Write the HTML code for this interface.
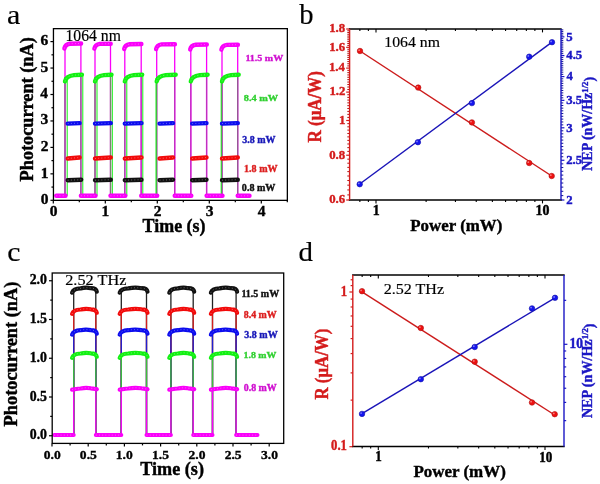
<!DOCTYPE html>
<html><head><meta charset="utf-8"><style>
html,body{margin:0;padding:0;background:#fff;}
svg{display:block;}
text{font-family:"Liberation Serif","Times New Roman",serif;}
</style></head><body>
<svg width="600" height="484" viewBox="0 0 600 484">
<rect width="600" height="484" fill="#fff"/>
<line x1="65.00" y1="195.80" x2="65.00" y2="46.45" stroke="#fa00fa" stroke-width="1.3"/>
<line x1="80.90" y1="195.80" x2="80.90" y2="43.45" stroke="#fa00fa" stroke-width="1.3"/>
<line x1="65.00" y1="195.80" x2="65.00" y2="76.93" stroke="#8c5a8c" stroke-width="1.3"/>
<line x1="80.90" y1="195.80" x2="80.90" y2="74.93" stroke="#8a6a8a" stroke-width="1.3"/>
<line x1="95.00" y1="195.80" x2="95.00" y2="46.70" stroke="#fa00fa" stroke-width="1.3"/>
<line x1="110.50" y1="195.80" x2="110.50" y2="43.70" stroke="#fa00fa" stroke-width="1.3"/>
<line x1="95.00" y1="195.80" x2="95.00" y2="76.93" stroke="#7a7a72" stroke-width="1.3"/>
<line x1="110.50" y1="195.80" x2="110.50" y2="74.93" stroke="#7a8470" stroke-width="1.3"/>
<line x1="124.80" y1="195.80" x2="124.80" y2="46.95" stroke="#fa00fa" stroke-width="1.3"/>
<line x1="141.20" y1="195.80" x2="141.20" y2="43.95" stroke="#fa00fa" stroke-width="1.3"/>
<line x1="124.80" y1="195.80" x2="124.80" y2="76.93" stroke="#a050a0" stroke-width="1.3"/>
<line x1="141.20" y1="195.80" x2="141.20" y2="74.93" stroke="#c030c0" stroke-width="1.3"/>
<line x1="156.70" y1="195.80" x2="156.70" y2="47.20" stroke="#fa00fa" stroke-width="1.3"/>
<line x1="174.70" y1="195.80" x2="174.70" y2="44.20" stroke="#fa00fa" stroke-width="1.3"/>
<line x1="156.70" y1="195.80" x2="156.70" y2="76.93" stroke="#6a8a6a" stroke-width="1.3"/>
<line x1="174.70" y1="195.80" x2="174.70" y2="74.93" stroke="#c030c0" stroke-width="1.3"/>
<line x1="190.80" y1="195.80" x2="190.80" y2="47.45" stroke="#fa00fa" stroke-width="1.3"/>
<line x1="206.60" y1="195.80" x2="206.60" y2="44.45" stroke="#fa00fa" stroke-width="1.3"/>
<line x1="190.80" y1="195.80" x2="190.80" y2="76.93" stroke="#c030c0" stroke-width="1.3"/>
<line x1="206.60" y1="195.80" x2="206.60" y2="74.93" stroke="#c030c0" stroke-width="1.3"/>
<line x1="222.00" y1="195.80" x2="222.00" y2="47.70" stroke="#fa00fa" stroke-width="1.3"/>
<line x1="237.70" y1="195.80" x2="237.70" y2="44.70" stroke="#fa00fa" stroke-width="1.3"/>
<line x1="222.00" y1="195.80" x2="222.00" y2="76.93" stroke="#905a90" stroke-width="1.3"/>
<line x1="237.70" y1="195.80" x2="237.70" y2="74.93" stroke="#905a90" stroke-width="1.3"/>
<line x1="67.20" y1="195.80" x2="67.20" y2="77.93" stroke="#12f012" stroke-width="1.0"/>
<line x1="82.80" y1="195.80" x2="82.80" y2="74.93" stroke="#12f012" stroke-width="1.0"/>
<line x1="97.00" y1="195.80" x2="97.00" y2="77.93" stroke="#12f012" stroke-width="1.0"/>
<line x1="112.30" y1="195.80" x2="112.30" y2="74.93" stroke="#12f012" stroke-width="1.0"/>
<line x1="126.80" y1="195.80" x2="126.80" y2="77.93" stroke="#12f012" stroke-width="1.0"/>
<line x1="142.80" y1="195.80" x2="142.80" y2="74.93" stroke="#12f012" stroke-width="1.0"/>
<line x1="156.00" y1="195.80" x2="156.00" y2="77.93" stroke="#12f012" stroke-width="1.0"/>
<line x1="221.20" y1="195.80" x2="221.20" y2="77.93" stroke="#12f012" stroke-width="1.0"/>
<path d="M67.7,180.2 L81.2,179.7" stroke="#111" stroke-width="4.4" fill="none" stroke-linecap="round"/>
<path d="M67.7,180.2 L81.2,179.7" stroke="#fff" stroke-opacity="0.45" stroke-width="0.9" stroke-dasharray="0.9 2.3" fill="none"/>
<path d="M95.0,180.2 L110.8,179.7" stroke="#111" stroke-width="4.4" fill="none" stroke-linecap="round"/>
<path d="M95.0,180.2 L110.8,179.7" stroke="#fff" stroke-opacity="0.45" stroke-width="0.9" stroke-dasharray="0.9 2.3" fill="none"/>
<path d="M124.8,180.2 L141.5,179.7" stroke="#111" stroke-width="4.4" fill="none" stroke-linecap="round"/>
<path d="M124.8,180.2 L141.5,179.7" stroke="#fff" stroke-opacity="0.45" stroke-width="0.9" stroke-dasharray="0.9 2.3" fill="none"/>
<path d="M159.6,180.2 L173.0,179.7" stroke="#111" stroke-width="4.4" fill="none" stroke-linecap="round"/>
<path d="M159.6,180.2 L173.0,179.7" stroke="#fff" stroke-opacity="0.45" stroke-width="0.9" stroke-dasharray="0.9 2.3" fill="none"/>
<path d="M192.2,180.2 L206.5,179.7" stroke="#111" stroke-width="4.4" fill="none" stroke-linecap="round"/>
<path d="M192.2,180.2 L206.5,179.7" stroke="#fff" stroke-opacity="0.45" stroke-width="0.9" stroke-dasharray="0.9 2.3" fill="none"/>
<path d="M222.0,180.2 L237.8,179.7" stroke="#111" stroke-width="4.4" fill="none" stroke-linecap="round"/>
<path d="M222.0,180.2 L237.8,179.7" stroke="#fff" stroke-opacity="0.45" stroke-width="0.9" stroke-dasharray="0.9 2.3" fill="none"/>
<path d="M67.7,158.5 L79.6,157.5" stroke="#f20a0a" stroke-width="4.4" fill="none" stroke-linecap="round"/>
<path d="M67.7,158.5 L79.6,157.5" stroke="#fff" stroke-opacity="0.45" stroke-width="0.9" stroke-dasharray="0.9 2.3" fill="none"/>
<path d="M95.0,158.5 L110.8,157.5" stroke="#f20a0a" stroke-width="4.4" fill="none" stroke-linecap="round"/>
<path d="M95.0,158.5 L110.8,157.5" stroke="#fff" stroke-opacity="0.45" stroke-width="0.9" stroke-dasharray="0.9 2.3" fill="none"/>
<path d="M124.8,158.5 L141.5,157.5" stroke="#f20a0a" stroke-width="4.4" fill="none" stroke-linecap="round"/>
<path d="M124.8,158.5 L141.5,157.5" stroke="#fff" stroke-opacity="0.45" stroke-width="0.9" stroke-dasharray="0.9 2.3" fill="none"/>
<path d="M159.6,158.5 L173.0,157.5" stroke="#f20a0a" stroke-width="4.4" fill="none" stroke-linecap="round"/>
<path d="M159.6,158.5 L173.0,157.5" stroke="#fff" stroke-opacity="0.45" stroke-width="0.9" stroke-dasharray="0.9 2.3" fill="none"/>
<path d="M192.2,158.5 L206.5,157.5" stroke="#f20a0a" stroke-width="4.4" fill="none" stroke-linecap="round"/>
<path d="M192.2,158.5 L206.5,157.5" stroke="#fff" stroke-opacity="0.45" stroke-width="0.9" stroke-dasharray="0.9 2.3" fill="none"/>
<path d="M222.0,158.5 L237.8,157.5" stroke="#f20a0a" stroke-width="4.4" fill="none" stroke-linecap="round"/>
<path d="M222.0,158.5 L237.8,157.5" stroke="#fff" stroke-opacity="0.45" stroke-width="0.9" stroke-dasharray="0.9 2.3" fill="none"/>
<path d="M67.7,123.6 L79.6,123.1" stroke="#0c0cee" stroke-width="4.4" fill="none" stroke-linecap="round"/>
<path d="M67.7,123.6 L79.6,123.1" stroke="#fff" stroke-opacity="0.45" stroke-width="0.9" stroke-dasharray="0.9 2.3" fill="none"/>
<path d="M95.0,123.6 L110.8,123.1" stroke="#0c0cee" stroke-width="4.4" fill="none" stroke-linecap="round"/>
<path d="M95.0,123.6 L110.8,123.1" stroke="#fff" stroke-opacity="0.45" stroke-width="0.9" stroke-dasharray="0.9 2.3" fill="none"/>
<path d="M124.8,123.6 L141.5,123.1" stroke="#0c0cee" stroke-width="4.4" fill="none" stroke-linecap="round"/>
<path d="M124.8,123.6 L141.5,123.1" stroke="#fff" stroke-opacity="0.45" stroke-width="0.9" stroke-dasharray="0.9 2.3" fill="none"/>
<path d="M159.6,123.6 L173.0,123.1" stroke="#0c0cee" stroke-width="4.4" fill="none" stroke-linecap="round"/>
<path d="M159.6,123.6 L173.0,123.1" stroke="#fff" stroke-opacity="0.45" stroke-width="0.9" stroke-dasharray="0.9 2.3" fill="none"/>
<path d="M192.2,123.6 L206.5,123.1" stroke="#0c0cee" stroke-width="4.4" fill="none" stroke-linecap="round"/>
<path d="M192.2,123.6 L206.5,123.1" stroke="#fff" stroke-opacity="0.45" stroke-width="0.9" stroke-dasharray="0.9 2.3" fill="none"/>
<path d="M222.0,123.6 L237.8,123.1" stroke="#0c0cee" stroke-width="4.4" fill="none" stroke-linecap="round"/>
<path d="M222.0,123.6 L237.8,123.1" stroke="#fff" stroke-opacity="0.45" stroke-width="0.9" stroke-dasharray="0.9 2.3" fill="none"/>
<path d="M65.0,81.4 C65.8,77.4 69.0,75.7 74.0,75.1 L81.9,74.7" stroke="#12f012" stroke-width="4.4" fill="none" stroke-linecap="round"/>
<path d="M65.0,81.4 C65.8,77.4 69.0,75.7 74.0,75.1 L81.9,74.7" stroke="#fff" stroke-opacity="0.45" stroke-width="0.9" stroke-dasharray="0.9 2.3" fill="none"/>
<path d="M95.0,81.4 C95.8,77.4 99.0,75.7 104.0,75.1 L111.5,74.7" stroke="#12f012" stroke-width="4.4" fill="none" stroke-linecap="round"/>
<path d="M95.0,81.4 C95.8,77.4 99.0,75.7 104.0,75.1 L111.5,74.7" stroke="#fff" stroke-opacity="0.45" stroke-width="0.9" stroke-dasharray="0.9 2.3" fill="none"/>
<path d="M124.8,81.4 C125.6,77.4 128.8,75.7 133.8,75.1 L142.2,74.7" stroke="#12f012" stroke-width="4.4" fill="none" stroke-linecap="round"/>
<path d="M124.8,81.4 C125.6,77.4 128.8,75.7 133.8,75.1 L142.2,74.7" stroke="#fff" stroke-opacity="0.45" stroke-width="0.9" stroke-dasharray="0.9 2.3" fill="none"/>
<path d="M156.7,81.4 C157.5,77.4 160.7,75.7 165.7,75.1 L175.7,74.7" stroke="#12f012" stroke-width="4.4" fill="none" stroke-linecap="round"/>
<path d="M156.7,81.4 C157.5,77.4 160.7,75.7 165.7,75.1 L175.7,74.7" stroke="#fff" stroke-opacity="0.45" stroke-width="0.9" stroke-dasharray="0.9 2.3" fill="none"/>
<path d="M190.8,81.4 C191.6,77.4 194.8,75.7 199.8,75.1 L207.6,74.7" stroke="#12f012" stroke-width="4.4" fill="none" stroke-linecap="round"/>
<path d="M190.8,81.4 C191.6,77.4 194.8,75.7 199.8,75.1 L207.6,74.7" stroke="#fff" stroke-opacity="0.45" stroke-width="0.9" stroke-dasharray="0.9 2.3" fill="none"/>
<path d="M222.0,81.4 C222.8,77.4 226.0,75.7 231.0,75.1 L238.7,74.7" stroke="#12f012" stroke-width="4.4" fill="none" stroke-linecap="round"/>
<path d="M222.0,81.4 C222.8,77.4 226.0,75.7 231.0,75.1 L238.7,74.7" stroke="#fff" stroke-opacity="0.45" stroke-width="0.9" stroke-dasharray="0.9 2.3" fill="none"/>
<path d="M64.4,48.5 Q65.2,44.3 70.0,43.7 L81.1,43.5" stroke="#fa00fa" stroke-width="4.4" fill="none" stroke-linecap="round"/>
<path d="M64.4,48.5 Q65.2,44.3 70.0,43.7 L81.1,43.5" stroke="#fff" stroke-opacity="0.45" stroke-width="0.9" stroke-dasharray="0.9 2.3" fill="none"/>
<path d="M94.4,48.7 Q95.2,44.5 100.0,43.9 L110.7,43.7" stroke="#fa00fa" stroke-width="4.4" fill="none" stroke-linecap="round"/>
<path d="M94.4,48.7 Q95.2,44.5 100.0,43.9 L110.7,43.7" stroke="#fff" stroke-opacity="0.45" stroke-width="0.9" stroke-dasharray="0.9 2.3" fill="none"/>
<path d="M124.2,49.0 Q125.0,44.8 129.8,44.2 L141.4,44.0" stroke="#fa00fa" stroke-width="4.4" fill="none" stroke-linecap="round"/>
<path d="M124.2,49.0 Q125.0,44.8 129.8,44.2 L141.4,44.0" stroke="#fff" stroke-opacity="0.45" stroke-width="0.9" stroke-dasharray="0.9 2.3" fill="none"/>
<path d="M156.1,49.2 Q156.9,45.0 161.7,44.4 L174.9,44.2" stroke="#fa00fa" stroke-width="4.4" fill="none" stroke-linecap="round"/>
<path d="M156.1,49.2 Q156.9,45.0 161.7,44.4 L174.9,44.2" stroke="#fff" stroke-opacity="0.45" stroke-width="0.9" stroke-dasharray="0.9 2.3" fill="none"/>
<path d="M190.2,49.5 Q191.0,45.3 195.8,44.7 L206.8,44.5" stroke="#fa00fa" stroke-width="4.4" fill="none" stroke-linecap="round"/>
<path d="M190.2,49.5 Q191.0,45.3 195.8,44.7 L206.8,44.5" stroke="#fff" stroke-opacity="0.45" stroke-width="0.9" stroke-dasharray="0.9 2.3" fill="none"/>
<path d="M221.4,49.7 Q222.2,45.5 227.0,44.9 L237.9,44.7" stroke="#fa00fa" stroke-width="4.4" fill="none" stroke-linecap="round"/>
<path d="M221.4,49.7 Q222.2,45.5 227.0,44.9 L237.9,44.7" stroke="#fff" stroke-opacity="0.45" stroke-width="0.9" stroke-dasharray="0.9 2.3" fill="none"/>
<path d="M56.3,195.8 L65.5,195.8" stroke="#fa00fa" stroke-width="4.4" fill="none" stroke-linecap="round"/>
<path d="M56.3,195.8 L65.5,195.8" stroke="#fff" stroke-opacity="0.45" stroke-width="0.9" stroke-dasharray="0.9 2.3" fill="none"/>
<path d="M80.9,195.8 L95.5,195.8" stroke="#fa00fa" stroke-width="4.4" fill="none" stroke-linecap="round"/>
<path d="M80.9,195.8 L95.5,195.8" stroke="#fff" stroke-opacity="0.45" stroke-width="0.9" stroke-dasharray="0.9 2.3" fill="none"/>
<path d="M110.5,195.8 L125.3,195.8" stroke="#fa00fa" stroke-width="4.4" fill="none" stroke-linecap="round"/>
<path d="M110.5,195.8 L125.3,195.8" stroke="#fff" stroke-opacity="0.45" stroke-width="0.9" stroke-dasharray="0.9 2.3" fill="none"/>
<path d="M141.2,195.8 L157.2,195.8" stroke="#fa00fa" stroke-width="4.4" fill="none" stroke-linecap="round"/>
<path d="M141.2,195.8 L157.2,195.8" stroke="#fff" stroke-opacity="0.45" stroke-width="0.9" stroke-dasharray="0.9 2.3" fill="none"/>
<path d="M174.7,195.8 L191.3,195.8" stroke="#fa00fa" stroke-width="4.4" fill="none" stroke-linecap="round"/>
<path d="M174.7,195.8 L191.3,195.8" stroke="#fff" stroke-opacity="0.45" stroke-width="0.9" stroke-dasharray="0.9 2.3" fill="none"/>
<path d="M206.6,195.8 L222.5,195.8" stroke="#fa00fa" stroke-width="4.4" fill="none" stroke-linecap="round"/>
<path d="M206.6,195.8 L222.5,195.8" stroke="#fff" stroke-opacity="0.45" stroke-width="0.9" stroke-dasharray="0.9 2.3" fill="none"/>
<path d="M237.7,195.8 L249.5,195.8" stroke="#fa00fa" stroke-width="4.4" fill="none" stroke-linecap="round"/>
<path d="M237.7,195.8 L249.5,195.8" stroke="#fff" stroke-opacity="0.45" stroke-width="0.9" stroke-dasharray="0.9 2.3" fill="none"/>
<rect x="53.45" y="28.65" width="233.90" height="171.70" fill="none" stroke="#000" stroke-width="1.3"/>
<line x1="50.45" y1="200.30" x2="53.45" y2="200.30" stroke="#000" stroke-width="1.2"/>
<line x1="51.45" y1="187.08" x2="53.45" y2="187.08" stroke="#000" stroke-width="1.2"/>
<line x1="50.45" y1="173.85" x2="53.45" y2="173.85" stroke="#000" stroke-width="1.2"/>
<line x1="51.45" y1="160.62" x2="53.45" y2="160.62" stroke="#000" stroke-width="1.2"/>
<line x1="50.45" y1="147.40" x2="53.45" y2="147.40" stroke="#000" stroke-width="1.2"/>
<line x1="51.45" y1="134.18" x2="53.45" y2="134.18" stroke="#000" stroke-width="1.2"/>
<line x1="50.45" y1="120.95" x2="53.45" y2="120.95" stroke="#000" stroke-width="1.2"/>
<line x1="51.45" y1="107.73" x2="53.45" y2="107.73" stroke="#000" stroke-width="1.2"/>
<line x1="50.45" y1="94.50" x2="53.45" y2="94.50" stroke="#000" stroke-width="1.2"/>
<line x1="51.45" y1="81.28" x2="53.45" y2="81.28" stroke="#000" stroke-width="1.2"/>
<line x1="50.45" y1="68.05" x2="53.45" y2="68.05" stroke="#000" stroke-width="1.2"/>
<line x1="51.45" y1="54.83" x2="53.45" y2="54.83" stroke="#000" stroke-width="1.2"/>
<line x1="50.45" y1="41.60" x2="53.45" y2="41.60" stroke="#000" stroke-width="1.2"/>
<line x1="53.30" y1="200.35" x2="53.30" y2="203.55" stroke="#000" stroke-width="1.2"/>
<line x1="79.30" y1="200.35" x2="79.30" y2="202.35" stroke="#000" stroke-width="1.2"/>
<line x1="105.30" y1="200.35" x2="105.30" y2="203.55" stroke="#000" stroke-width="1.2"/>
<line x1="131.30" y1="200.35" x2="131.30" y2="202.35" stroke="#000" stroke-width="1.2"/>
<line x1="157.30" y1="200.35" x2="157.30" y2="203.55" stroke="#000" stroke-width="1.2"/>
<line x1="183.30" y1="200.35" x2="183.30" y2="202.35" stroke="#000" stroke-width="1.2"/>
<line x1="209.30" y1="200.35" x2="209.30" y2="203.55" stroke="#000" stroke-width="1.2"/>
<line x1="235.30" y1="200.35" x2="235.30" y2="202.35" stroke="#000" stroke-width="1.2"/>
<line x1="261.30" y1="200.35" x2="261.30" y2="203.55" stroke="#000" stroke-width="1.2"/>
<line x1="287.30" y1="200.35" x2="287.30" y2="202.35" stroke="#000" stroke-width="1.2"/>
<line x1="346.20" y1="200.00" x2="349.60" y2="200.00" stroke="#d41c1c" stroke-width="1.2"/>
<line x1="347.30" y1="194.90" x2="349.60" y2="194.90" stroke="#b81414" stroke-width="1.0"/>
<line x1="347.30" y1="189.95" x2="349.60" y2="189.95" stroke="#b81414" stroke-width="1.0"/>
<line x1="347.30" y1="185.16" x2="349.60" y2="185.16" stroke="#b81414" stroke-width="1.0"/>
<line x1="347.30" y1="180.52" x2="349.60" y2="180.52" stroke="#b81414" stroke-width="1.0"/>
<line x1="347.30" y1="176.01" x2="349.60" y2="176.01" stroke="#b81414" stroke-width="1.0"/>
<line x1="347.30" y1="171.62" x2="349.60" y2="171.62" stroke="#b81414" stroke-width="1.0"/>
<line x1="347.30" y1="167.36" x2="349.60" y2="167.36" stroke="#b81414" stroke-width="1.0"/>
<line x1="347.30" y1="163.21" x2="349.60" y2="163.21" stroke="#b81414" stroke-width="1.0"/>
<line x1="347.30" y1="159.16" x2="349.60" y2="159.16" stroke="#b81414" stroke-width="1.0"/>
<line x1="346.20" y1="155.22" x2="349.60" y2="155.22" stroke="#d41c1c" stroke-width="1.2"/>
<line x1="347.30" y1="151.38" x2="349.60" y2="151.38" stroke="#b81414" stroke-width="1.0"/>
<line x1="347.30" y1="147.63" x2="349.60" y2="147.63" stroke="#b81414" stroke-width="1.0"/>
<line x1="347.30" y1="143.97" x2="349.60" y2="143.97" stroke="#b81414" stroke-width="1.0"/>
<line x1="347.30" y1="140.39" x2="349.60" y2="140.39" stroke="#b81414" stroke-width="1.0"/>
<line x1="347.30" y1="136.89" x2="349.60" y2="136.89" stroke="#b81414" stroke-width="1.0"/>
<line x1="347.30" y1="133.47" x2="349.60" y2="133.47" stroke="#b81414" stroke-width="1.0"/>
<line x1="347.30" y1="130.12" x2="349.60" y2="130.12" stroke="#b81414" stroke-width="1.0"/>
<line x1="347.30" y1="126.84" x2="349.60" y2="126.84" stroke="#b81414" stroke-width="1.0"/>
<line x1="347.30" y1="123.63" x2="349.60" y2="123.63" stroke="#b81414" stroke-width="1.0"/>
<line x1="346.20" y1="120.49" x2="349.60" y2="120.49" stroke="#d41c1c" stroke-width="1.2"/>
<line x1="347.30" y1="117.41" x2="349.60" y2="117.41" stroke="#b81414" stroke-width="1.0"/>
<line x1="347.30" y1="114.38" x2="349.60" y2="114.38" stroke="#b81414" stroke-width="1.0"/>
<line x1="347.30" y1="111.42" x2="349.60" y2="111.42" stroke="#b81414" stroke-width="1.0"/>
<line x1="347.30" y1="108.51" x2="349.60" y2="108.51" stroke="#b81414" stroke-width="1.0"/>
<line x1="347.30" y1="105.65" x2="349.60" y2="105.65" stroke="#b81414" stroke-width="1.0"/>
<line x1="347.30" y1="102.85" x2="349.60" y2="102.85" stroke="#b81414" stroke-width="1.0"/>
<line x1="347.30" y1="100.09" x2="349.60" y2="100.09" stroke="#b81414" stroke-width="1.0"/>
<line x1="347.30" y1="97.39" x2="349.60" y2="97.39" stroke="#b81414" stroke-width="1.0"/>
<line x1="347.30" y1="94.73" x2="349.60" y2="94.73" stroke="#b81414" stroke-width="1.0"/>
<line x1="346.20" y1="92.11" x2="349.60" y2="92.11" stroke="#d41c1c" stroke-width="1.2"/>
<line x1="347.30" y1="89.54" x2="349.60" y2="89.54" stroke="#b81414" stroke-width="1.0"/>
<line x1="347.30" y1="87.01" x2="349.60" y2="87.01" stroke="#b81414" stroke-width="1.0"/>
<line x1="347.30" y1="84.52" x2="349.60" y2="84.52" stroke="#b81414" stroke-width="1.0"/>
<line x1="347.30" y1="82.07" x2="349.60" y2="82.07" stroke="#b81414" stroke-width="1.0"/>
<line x1="347.30" y1="79.65" x2="349.60" y2="79.65" stroke="#b81414" stroke-width="1.0"/>
<line x1="347.30" y1="77.28" x2="349.60" y2="77.28" stroke="#b81414" stroke-width="1.0"/>
<line x1="347.30" y1="74.94" x2="349.60" y2="74.94" stroke="#b81414" stroke-width="1.0"/>
<line x1="347.30" y1="72.63" x2="349.60" y2="72.63" stroke="#b81414" stroke-width="1.0"/>
<line x1="347.30" y1="70.36" x2="349.60" y2="70.36" stroke="#b81414" stroke-width="1.0"/>
<line x1="346.20" y1="68.12" x2="349.60" y2="68.12" stroke="#d41c1c" stroke-width="1.2"/>
<line x1="347.30" y1="65.91" x2="349.60" y2="65.91" stroke="#b81414" stroke-width="1.0"/>
<line x1="347.30" y1="63.73" x2="349.60" y2="63.73" stroke="#b81414" stroke-width="1.0"/>
<line x1="347.30" y1="61.59" x2="349.60" y2="61.59" stroke="#b81414" stroke-width="1.0"/>
<line x1="347.30" y1="59.47" x2="349.60" y2="59.47" stroke="#b81414" stroke-width="1.0"/>
<line x1="347.30" y1="57.38" x2="349.60" y2="57.38" stroke="#b81414" stroke-width="1.0"/>
<line x1="347.30" y1="55.32" x2="349.60" y2="55.32" stroke="#b81414" stroke-width="1.0"/>
<line x1="347.30" y1="53.28" x2="349.60" y2="53.28" stroke="#b81414" stroke-width="1.0"/>
<line x1="347.30" y1="51.27" x2="349.60" y2="51.27" stroke="#b81414" stroke-width="1.0"/>
<line x1="347.30" y1="49.29" x2="349.60" y2="49.29" stroke="#b81414" stroke-width="1.0"/>
<line x1="346.20" y1="47.33" x2="349.60" y2="47.33" stroke="#d41c1c" stroke-width="1.2"/>
<line x1="347.30" y1="45.40" x2="349.60" y2="45.40" stroke="#b81414" stroke-width="1.0"/>
<line x1="347.30" y1="43.49" x2="349.60" y2="43.49" stroke="#b81414" stroke-width="1.0"/>
<line x1="347.30" y1="41.60" x2="349.60" y2="41.60" stroke="#b81414" stroke-width="1.0"/>
<line x1="347.30" y1="39.74" x2="349.60" y2="39.74" stroke="#b81414" stroke-width="1.0"/>
<line x1="347.30" y1="37.90" x2="349.60" y2="37.90" stroke="#b81414" stroke-width="1.0"/>
<line x1="347.30" y1="36.08" x2="349.60" y2="36.08" stroke="#b81414" stroke-width="1.0"/>
<line x1="347.30" y1="34.28" x2="349.60" y2="34.28" stroke="#b81414" stroke-width="1.0"/>
<line x1="347.30" y1="32.50" x2="349.60" y2="32.50" stroke="#b81414" stroke-width="1.0"/>
<line x1="347.30" y1="30.74" x2="349.60" y2="30.74" stroke="#b81414" stroke-width="1.0"/>
<line x1="346.20" y1="29.00" x2="349.60" y2="29.00" stroke="#d41c1c" stroke-width="1.2"/>
<line x1="561.00" y1="200.00" x2="564.40" y2="200.00" stroke="#1a16c4" stroke-width="1.2"/>
<line x1="561.00" y1="195.60" x2="563.30" y2="195.60" stroke="#141490" stroke-width="1.0"/>
<line x1="561.00" y1="191.31" x2="563.30" y2="191.31" stroke="#141490" stroke-width="1.0"/>
<line x1="561.00" y1="187.12" x2="563.30" y2="187.12" stroke="#141490" stroke-width="1.0"/>
<line x1="561.00" y1="183.03" x2="563.30" y2="183.03" stroke="#141490" stroke-width="1.0"/>
<line x1="561.00" y1="179.03" x2="563.30" y2="179.03" stroke="#141490" stroke-width="1.0"/>
<line x1="561.00" y1="175.11" x2="563.30" y2="175.11" stroke="#141490" stroke-width="1.0"/>
<line x1="561.00" y1="171.28" x2="563.30" y2="171.28" stroke="#141490" stroke-width="1.0"/>
<line x1="561.00" y1="167.54" x2="563.30" y2="167.54" stroke="#141490" stroke-width="1.0"/>
<line x1="561.00" y1="163.86" x2="563.30" y2="163.86" stroke="#141490" stroke-width="1.0"/>
<line x1="561.00" y1="160.27" x2="564.40" y2="160.27" stroke="#1a16c4" stroke-width="1.2"/>
<line x1="561.00" y1="156.74" x2="563.30" y2="156.74" stroke="#141490" stroke-width="1.0"/>
<line x1="561.00" y1="153.28" x2="563.30" y2="153.28" stroke="#141490" stroke-width="1.0"/>
<line x1="561.00" y1="149.89" x2="563.30" y2="149.89" stroke="#141490" stroke-width="1.0"/>
<line x1="561.00" y1="146.56" x2="563.30" y2="146.56" stroke="#141490" stroke-width="1.0"/>
<line x1="561.00" y1="143.30" x2="563.30" y2="143.30" stroke="#141490" stroke-width="1.0"/>
<line x1="561.00" y1="140.09" x2="563.30" y2="140.09" stroke="#141490" stroke-width="1.0"/>
<line x1="561.00" y1="136.94" x2="563.30" y2="136.94" stroke="#141490" stroke-width="1.0"/>
<line x1="561.00" y1="133.84" x2="563.30" y2="133.84" stroke="#141490" stroke-width="1.0"/>
<line x1="561.00" y1="130.80" x2="563.30" y2="130.80" stroke="#141490" stroke-width="1.0"/>
<line x1="561.00" y1="127.80" x2="564.40" y2="127.80" stroke="#1a16c4" stroke-width="1.2"/>
<line x1="561.00" y1="124.86" x2="563.30" y2="124.86" stroke="#141490" stroke-width="1.0"/>
<line x1="561.00" y1="121.96" x2="563.30" y2="121.96" stroke="#141490" stroke-width="1.0"/>
<line x1="561.00" y1="119.11" x2="563.30" y2="119.11" stroke="#141490" stroke-width="1.0"/>
<line x1="561.00" y1="116.31" x2="563.30" y2="116.31" stroke="#141490" stroke-width="1.0"/>
<line x1="561.00" y1="113.55" x2="563.30" y2="113.55" stroke="#141490" stroke-width="1.0"/>
<line x1="561.00" y1="110.83" x2="563.30" y2="110.83" stroke="#141490" stroke-width="1.0"/>
<line x1="561.00" y1="108.15" x2="563.30" y2="108.15" stroke="#141490" stroke-width="1.0"/>
<line x1="561.00" y1="105.52" x2="563.30" y2="105.52" stroke="#141490" stroke-width="1.0"/>
<line x1="561.00" y1="102.92" x2="563.30" y2="102.92" stroke="#141490" stroke-width="1.0"/>
<line x1="561.00" y1="100.35" x2="564.40" y2="100.35" stroke="#1a16c4" stroke-width="1.2"/>
<line x1="561.00" y1="97.83" x2="563.30" y2="97.83" stroke="#141490" stroke-width="1.0"/>
<line x1="561.00" y1="95.34" x2="563.30" y2="95.34" stroke="#141490" stroke-width="1.0"/>
<line x1="561.00" y1="92.88" x2="563.30" y2="92.88" stroke="#141490" stroke-width="1.0"/>
<line x1="561.00" y1="90.46" x2="563.30" y2="90.46" stroke="#141490" stroke-width="1.0"/>
<line x1="561.00" y1="88.07" x2="563.30" y2="88.07" stroke="#141490" stroke-width="1.0"/>
<line x1="561.00" y1="85.71" x2="563.30" y2="85.71" stroke="#141490" stroke-width="1.0"/>
<line x1="561.00" y1="83.38" x2="563.30" y2="83.38" stroke="#141490" stroke-width="1.0"/>
<line x1="561.00" y1="81.09" x2="563.30" y2="81.09" stroke="#141490" stroke-width="1.0"/>
<line x1="561.00" y1="78.82" x2="563.30" y2="78.82" stroke="#141490" stroke-width="1.0"/>
<line x1="561.00" y1="76.58" x2="564.40" y2="76.58" stroke="#1a16c4" stroke-width="1.2"/>
<line x1="561.00" y1="74.37" x2="563.30" y2="74.37" stroke="#141490" stroke-width="1.0"/>
<line x1="561.00" y1="72.18" x2="563.30" y2="72.18" stroke="#141490" stroke-width="1.0"/>
<line x1="561.00" y1="70.02" x2="563.30" y2="70.02" stroke="#141490" stroke-width="1.0"/>
<line x1="561.00" y1="67.89" x2="563.30" y2="67.89" stroke="#141490" stroke-width="1.0"/>
<line x1="561.00" y1="65.78" x2="563.30" y2="65.78" stroke="#141490" stroke-width="1.0"/>
<line x1="561.00" y1="63.70" x2="563.30" y2="63.70" stroke="#141490" stroke-width="1.0"/>
<line x1="561.00" y1="61.64" x2="563.30" y2="61.64" stroke="#141490" stroke-width="1.0"/>
<line x1="561.00" y1="59.61" x2="563.30" y2="59.61" stroke="#141490" stroke-width="1.0"/>
<line x1="561.00" y1="57.59" x2="563.30" y2="57.59" stroke="#141490" stroke-width="1.0"/>
<line x1="561.00" y1="55.61" x2="564.40" y2="55.61" stroke="#1a16c4" stroke-width="1.2"/>
<line x1="561.00" y1="53.64" x2="563.30" y2="53.64" stroke="#141490" stroke-width="1.0"/>
<line x1="561.00" y1="51.69" x2="563.30" y2="51.69" stroke="#141490" stroke-width="1.0"/>
<line x1="561.00" y1="49.77" x2="563.30" y2="49.77" stroke="#141490" stroke-width="1.0"/>
<line x1="561.00" y1="47.86" x2="563.30" y2="47.86" stroke="#141490" stroke-width="1.0"/>
<line x1="561.00" y1="45.98" x2="563.30" y2="45.98" stroke="#141490" stroke-width="1.0"/>
<line x1="561.00" y1="44.11" x2="563.30" y2="44.11" stroke="#141490" stroke-width="1.0"/>
<line x1="561.00" y1="42.27" x2="563.30" y2="42.27" stroke="#141490" stroke-width="1.0"/>
<line x1="561.00" y1="40.44" x2="563.30" y2="40.44" stroke="#141490" stroke-width="1.0"/>
<line x1="561.00" y1="38.63" x2="563.30" y2="38.63" stroke="#141490" stroke-width="1.0"/>
<line x1="561.00" y1="36.84" x2="564.40" y2="36.84" stroke="#1a16c4" stroke-width="1.2"/>
<line x1="561.00" y1="35.07" x2="563.30" y2="35.07" stroke="#141490" stroke-width="1.0"/>
<line x1="561.00" y1="33.32" x2="563.30" y2="33.32" stroke="#141490" stroke-width="1.0"/>
<line x1="561.00" y1="31.58" x2="563.30" y2="31.58" stroke="#141490" stroke-width="1.0"/>
<line x1="561.00" y1="29.86" x2="563.30" y2="29.86" stroke="#141490" stroke-width="1.0"/>
<line x1="359.86" y1="200.00" x2="359.86" y2="202.00" stroke="#000" stroke-width="1.1"/>
<line x1="359.86" y1="29.00" x2="359.86" y2="31.00" stroke="#000" stroke-width="1.1"/>
<line x1="368.38" y1="200.00" x2="368.38" y2="202.00" stroke="#000" stroke-width="1.1"/>
<line x1="368.38" y1="29.00" x2="368.38" y2="31.00" stroke="#000" stroke-width="1.1"/>
<line x1="376.00" y1="200.00" x2="376.00" y2="203.40" stroke="#000" stroke-width="1.1"/>
<line x1="376.00" y1="29.00" x2="376.00" y2="32.40" stroke="#000" stroke-width="1.1"/>
<line x1="426.12" y1="200.00" x2="426.12" y2="202.00" stroke="#000" stroke-width="1.1"/>
<line x1="426.12" y1="29.00" x2="426.12" y2="31.00" stroke="#000" stroke-width="1.1"/>
<line x1="455.44" y1="200.00" x2="455.44" y2="202.00" stroke="#000" stroke-width="1.1"/>
<line x1="455.44" y1="29.00" x2="455.44" y2="31.00" stroke="#000" stroke-width="1.1"/>
<line x1="476.24" y1="200.00" x2="476.24" y2="202.00" stroke="#000" stroke-width="1.1"/>
<line x1="476.24" y1="29.00" x2="476.24" y2="31.00" stroke="#000" stroke-width="1.1"/>
<line x1="492.38" y1="200.00" x2="492.38" y2="202.00" stroke="#000" stroke-width="1.1"/>
<line x1="492.38" y1="29.00" x2="492.38" y2="31.00" stroke="#000" stroke-width="1.1"/>
<line x1="505.56" y1="200.00" x2="505.56" y2="202.00" stroke="#000" stroke-width="1.1"/>
<line x1="505.56" y1="29.00" x2="505.56" y2="31.00" stroke="#000" stroke-width="1.1"/>
<line x1="516.71" y1="200.00" x2="516.71" y2="202.00" stroke="#000" stroke-width="1.1"/>
<line x1="516.71" y1="29.00" x2="516.71" y2="31.00" stroke="#000" stroke-width="1.1"/>
<line x1="526.36" y1="200.00" x2="526.36" y2="202.00" stroke="#000" stroke-width="1.1"/>
<line x1="526.36" y1="29.00" x2="526.36" y2="31.00" stroke="#000" stroke-width="1.1"/>
<line x1="534.88" y1="200.00" x2="534.88" y2="202.00" stroke="#000" stroke-width="1.1"/>
<line x1="534.88" y1="29.00" x2="534.88" y2="31.00" stroke="#000" stroke-width="1.1"/>
<line x1="542.50" y1="200.00" x2="542.50" y2="203.40" stroke="#000" stroke-width="1.1"/>
<line x1="542.50" y1="29.00" x2="542.50" y2="32.40" stroke="#000" stroke-width="1.1"/>
<line x1="348.90" y1="29.00" x2="561.70" y2="29.00" stroke="#000" stroke-width="1.3"/>
<line x1="348.90" y1="200.00" x2="561.70" y2="200.00" stroke="#000" stroke-width="1.3"/>
<line x1="349.60" y1="29.00" x2="349.60" y2="200.00" stroke="#d41c1c" stroke-width="1.4"/>
<line x1="561.00" y1="29.00" x2="561.00" y2="200.00" stroke="#1a16c4" stroke-width="1.4"/>
<line x1="360.00" y1="51.00" x2="551.70" y2="176.00" stroke="#cc1c1c" stroke-width="1.45"/>
<line x1="359.70" y1="184.00" x2="552.00" y2="42.20" stroke="#1a14b8" stroke-width="1.45"/>
<circle cx="360.0" cy="51.0" r="2.75" fill="#ee1010" stroke="#b01010" stroke-width="0.6"/>
<circle cx="359.10" cy="50.20" r="0.9" fill="#fff" fill-opacity="0.45"/>
<circle cx="418.2" cy="87.6" r="2.75" fill="#ee1010" stroke="#b01010" stroke-width="0.6"/>
<circle cx="417.30" cy="86.80" r="0.9" fill="#fff" fill-opacity="0.45"/>
<circle cx="471.9" cy="122.4" r="2.75" fill="#ee1010" stroke="#b01010" stroke-width="0.6"/>
<circle cx="471.00" cy="121.60" r="0.9" fill="#fff" fill-opacity="0.45"/>
<circle cx="529.2" cy="163.0" r="2.75" fill="#ee1010" stroke="#b01010" stroke-width="0.6"/>
<circle cx="528.30" cy="162.20" r="0.9" fill="#fff" fill-opacity="0.45"/>
<circle cx="551.7" cy="176.0" r="2.75" fill="#ee1010" stroke="#b01010" stroke-width="0.6"/>
<circle cx="550.80" cy="175.20" r="0.9" fill="#fff" fill-opacity="0.45"/>
<circle cx="359.7" cy="184.2" r="2.75" fill="#1414f0" stroke="#1010a8" stroke-width="0.6"/>
<circle cx="358.80" cy="183.40" r="0.9" fill="#fff" fill-opacity="0.45"/>
<circle cx="417.9" cy="142.2" r="2.75" fill="#1414f0" stroke="#1010a8" stroke-width="0.6"/>
<circle cx="417.00" cy="141.40" r="0.9" fill="#fff" fill-opacity="0.45"/>
<circle cx="471.9" cy="103.1" r="2.75" fill="#1414f0" stroke="#1010a8" stroke-width="0.6"/>
<circle cx="471.00" cy="102.30" r="0.9" fill="#fff" fill-opacity="0.45"/>
<circle cx="529.2" cy="56.7" r="2.75" fill="#1414f0" stroke="#1010a8" stroke-width="0.6"/>
<circle cx="528.30" cy="55.90" r="0.9" fill="#fff" fill-opacity="0.45"/>
<circle cx="552.0" cy="42.2" r="2.75" fill="#1414f0" stroke="#1010a8" stroke-width="0.6"/>
<circle cx="551.10" cy="41.40" r="0.9" fill="#fff" fill-opacity="0.45"/>
<line x1="73.70" y1="435.13" x2="73.70" y2="290.50" stroke="#222" stroke-width="1.3"/>
<line x1="95.80" y1="435.13" x2="95.80" y2="289.50" stroke="#222" stroke-width="1.3"/>
<line x1="121.30" y1="435.13" x2="121.30" y2="290.50" stroke="#222" stroke-width="1.3"/>
<line x1="146.50" y1="435.13" x2="146.50" y2="289.50" stroke="#222" stroke-width="1.3"/>
<line x1="170.90" y1="435.13" x2="170.90" y2="290.50" stroke="#222" stroke-width="1.3"/>
<line x1="193.20" y1="435.13" x2="193.20" y2="289.50" stroke="#222" stroke-width="1.3"/>
<line x1="212.50" y1="435.13" x2="212.50" y2="290.50" stroke="#222" stroke-width="1.3"/>
<line x1="236.10" y1="435.13" x2="236.10" y2="289.50" stroke="#222" stroke-width="1.3"/>
<line x1="73.70" y1="435.13" x2="73.70" y2="311.58" stroke="#d42020" stroke-width="1.3"/>
<line x1="95.80" y1="435.13" x2="95.80" y2="310.58" stroke="#d42020" stroke-width="1.3"/>
<line x1="121.30" y1="435.13" x2="121.30" y2="311.58" stroke="#d42020" stroke-width="1.3"/>
<line x1="146.50" y1="435.13" x2="146.50" y2="310.58" stroke="#d42020" stroke-width="1.3"/>
<line x1="170.90" y1="435.13" x2="170.90" y2="311.58" stroke="#d42020" stroke-width="1.3"/>
<line x1="193.20" y1="435.13" x2="193.20" y2="310.58" stroke="#d42020" stroke-width="1.3"/>
<line x1="212.50" y1="435.13" x2="212.50" y2="311.58" stroke="#d42020" stroke-width="1.3"/>
<line x1="236.10" y1="435.13" x2="236.10" y2="310.58" stroke="#d42020" stroke-width="1.3"/>
<line x1="73.70" y1="435.13" x2="73.70" y2="332.35" stroke="#2020d0" stroke-width="1.3"/>
<line x1="95.80" y1="435.13" x2="95.80" y2="331.35" stroke="#2020d0" stroke-width="1.3"/>
<line x1="121.30" y1="435.13" x2="121.30" y2="332.35" stroke="#2020d0" stroke-width="1.3"/>
<line x1="146.50" y1="435.13" x2="146.50" y2="331.35" stroke="#2020d0" stroke-width="1.3"/>
<line x1="170.90" y1="435.13" x2="170.90" y2="332.35" stroke="#2020d0" stroke-width="1.3"/>
<line x1="193.20" y1="435.13" x2="193.20" y2="331.35" stroke="#2020d0" stroke-width="1.3"/>
<line x1="212.50" y1="435.13" x2="212.50" y2="332.35" stroke="#2020d0" stroke-width="1.3"/>
<line x1="236.10" y1="435.13" x2="236.10" y2="331.35" stroke="#2020d0" stroke-width="1.3"/>
<line x1="73.70" y1="435.13" x2="73.70" y2="355.60" stroke="#3cc03c" stroke-width="1.3"/>
<line x1="95.80" y1="435.13" x2="95.80" y2="354.60" stroke="#3cc03c" stroke-width="1.3"/>
<line x1="121.30" y1="435.13" x2="121.30" y2="355.60" stroke="#3cc03c" stroke-width="1.3"/>
<line x1="146.50" y1="435.13" x2="146.50" y2="354.60" stroke="#3cc03c" stroke-width="1.3"/>
<line x1="170.90" y1="435.13" x2="170.90" y2="355.60" stroke="#3cc03c" stroke-width="1.3"/>
<line x1="193.20" y1="435.13" x2="193.20" y2="354.60" stroke="#3cc03c" stroke-width="1.3"/>
<line x1="212.50" y1="435.13" x2="212.50" y2="355.60" stroke="#3cc03c" stroke-width="1.3"/>
<line x1="236.10" y1="435.13" x2="236.10" y2="354.60" stroke="#3cc03c" stroke-width="1.3"/>
<line x1="73.70" y1="435.13" x2="73.70" y2="390.63" stroke="#fa00fa" stroke-width="1.3"/>
<line x1="95.80" y1="435.13" x2="95.80" y2="389.63" stroke="#fa00fa" stroke-width="1.3"/>
<line x1="121.30" y1="435.13" x2="121.30" y2="390.63" stroke="#fa00fa" stroke-width="1.3"/>
<line x1="146.50" y1="435.13" x2="146.50" y2="389.63" stroke="#fa00fa" stroke-width="1.3"/>
<line x1="170.90" y1="435.13" x2="170.90" y2="390.63" stroke="#fa00fa" stroke-width="1.3"/>
<line x1="193.20" y1="435.13" x2="193.20" y2="389.63" stroke="#fa00fa" stroke-width="1.3"/>
<line x1="212.50" y1="435.13" x2="212.50" y2="390.63" stroke="#fa00fa" stroke-width="1.3"/>
<line x1="236.10" y1="435.13" x2="236.10" y2="389.63" stroke="#fa00fa" stroke-width="1.3"/>
<path d="M72.1,292.7 C73.1,289.7 76.7,288.5 80.7,288.4 Q85.8,287.1 90.8,288.2 C94.3,288.2 96.4,289.5 96.8,291.7" stroke="#111" stroke-width="4.2" fill="none" stroke-linecap="round"/>
<path d="M72.1,292.7 C73.1,289.7 76.7,288.5 80.7,288.4 Q85.8,287.1 90.8,288.2 C94.3,288.2 96.4,289.5 96.8,291.7" stroke="#fff" stroke-opacity="0.45" stroke-width="0.9" stroke-dasharray="0.9 2.3" fill="none"/>
<path d="M119.7,292.7 C120.7,289.7 124.3,288.5 128.3,288.4 Q134.9,287.1 141.5,288.2 C145.0,288.2 147.1,289.5 147.5,291.7" stroke="#111" stroke-width="4.2" fill="none" stroke-linecap="round"/>
<path d="M119.7,292.7 C120.7,289.7 124.3,288.5 128.3,288.4 Q134.9,287.1 141.5,288.2 C145.0,288.2 147.1,289.5 147.5,291.7" stroke="#fff" stroke-opacity="0.45" stroke-width="0.9" stroke-dasharray="0.9 2.3" fill="none"/>
<path d="M169.3,292.7 C170.3,289.7 173.9,288.5 177.9,288.4 Q183.1,287.1 188.2,288.2 C191.7,288.2 193.8,289.5 194.2,291.7" stroke="#111" stroke-width="4.2" fill="none" stroke-linecap="round"/>
<path d="M169.3,292.7 C170.3,289.7 173.9,288.5 177.9,288.4 Q183.1,287.1 188.2,288.2 C191.7,288.2 193.8,289.5 194.2,291.7" stroke="#fff" stroke-opacity="0.45" stroke-width="0.9" stroke-dasharray="0.9 2.3" fill="none"/>
<path d="M210.9,292.7 C211.9,289.7 215.5,288.5 219.5,288.4 Q225.3,287.1 231.1,288.2 C234.6,288.2 236.7,289.5 237.1,291.7" stroke="#111" stroke-width="4.2" fill="none" stroke-linecap="round"/>
<path d="M210.9,292.7 C211.9,289.7 215.5,288.5 219.5,288.4 Q225.3,287.1 231.1,288.2 C234.6,288.2 236.7,289.5 237.1,291.7" stroke="#fff" stroke-opacity="0.45" stroke-width="0.9" stroke-dasharray="0.9 2.3" fill="none"/>
<path d="M72.1,313.8 C73.1,310.8 76.7,309.6 80.7,309.5 Q85.8,308.2 90.8,309.3 C94.3,309.3 96.4,310.6 96.8,312.8" stroke="#f20a0a" stroke-width="4.2" fill="none" stroke-linecap="round"/>
<path d="M72.1,313.8 C73.1,310.8 76.7,309.6 80.7,309.5 Q85.8,308.2 90.8,309.3 C94.3,309.3 96.4,310.6 96.8,312.8" stroke="#fff" stroke-opacity="0.45" stroke-width="0.9" stroke-dasharray="0.9 2.3" fill="none"/>
<path d="M119.7,313.8 C120.7,310.8 124.3,309.6 128.3,309.5 Q134.9,308.2 141.5,309.3 C145.0,309.3 147.1,310.6 147.5,312.8" stroke="#f20a0a" stroke-width="4.2" fill="none" stroke-linecap="round"/>
<path d="M119.7,313.8 C120.7,310.8 124.3,309.6 128.3,309.5 Q134.9,308.2 141.5,309.3 C145.0,309.3 147.1,310.6 147.5,312.8" stroke="#fff" stroke-opacity="0.45" stroke-width="0.9" stroke-dasharray="0.9 2.3" fill="none"/>
<path d="M169.3,313.8 C170.3,310.8 173.9,309.6 177.9,309.5 Q183.1,308.2 188.2,309.3 C191.7,309.3 193.8,310.6 194.2,312.8" stroke="#f20a0a" stroke-width="4.2" fill="none" stroke-linecap="round"/>
<path d="M169.3,313.8 C170.3,310.8 173.9,309.6 177.9,309.5 Q183.1,308.2 188.2,309.3 C191.7,309.3 193.8,310.6 194.2,312.8" stroke="#fff" stroke-opacity="0.45" stroke-width="0.9" stroke-dasharray="0.9 2.3" fill="none"/>
<path d="M210.9,313.8 C211.9,310.8 215.5,309.6 219.5,309.5 Q225.3,308.2 231.1,309.3 C234.6,309.3 236.7,310.6 237.1,312.8" stroke="#f20a0a" stroke-width="4.2" fill="none" stroke-linecap="round"/>
<path d="M210.9,313.8 C211.9,310.8 215.5,309.6 219.5,309.5 Q225.3,308.2 231.1,309.3 C234.6,309.3 236.7,310.6 237.1,312.8" stroke="#fff" stroke-opacity="0.45" stroke-width="0.9" stroke-dasharray="0.9 2.3" fill="none"/>
<path d="M72.1,334.6 C73.1,331.6 76.7,330.4 80.7,330.2 Q85.8,329.0 90.8,330.1 C94.3,330.1 96.4,331.4 96.8,333.6" stroke="#0c0cee" stroke-width="4.2" fill="none" stroke-linecap="round"/>
<path d="M72.1,334.6 C73.1,331.6 76.7,330.4 80.7,330.2 Q85.8,329.0 90.8,330.1 C94.3,330.1 96.4,331.4 96.8,333.6" stroke="#fff" stroke-opacity="0.45" stroke-width="0.9" stroke-dasharray="0.9 2.3" fill="none"/>
<path d="M119.7,334.6 C120.7,331.6 124.3,330.4 128.3,330.2 Q134.9,329.0 141.5,330.1 C145.0,330.1 147.1,331.4 147.5,333.6" stroke="#0c0cee" stroke-width="4.2" fill="none" stroke-linecap="round"/>
<path d="M119.7,334.6 C120.7,331.6 124.3,330.4 128.3,330.2 Q134.9,329.0 141.5,330.1 C145.0,330.1 147.1,331.4 147.5,333.6" stroke="#fff" stroke-opacity="0.45" stroke-width="0.9" stroke-dasharray="0.9 2.3" fill="none"/>
<path d="M169.3,334.6 C170.3,331.6 173.9,330.4 177.9,330.2 Q183.1,329.0 188.2,330.1 C191.7,330.1 193.8,331.4 194.2,333.6" stroke="#0c0cee" stroke-width="4.2" fill="none" stroke-linecap="round"/>
<path d="M169.3,334.6 C170.3,331.6 173.9,330.4 177.9,330.2 Q183.1,329.0 188.2,330.1 C191.7,330.1 193.8,331.4 194.2,333.6" stroke="#fff" stroke-opacity="0.45" stroke-width="0.9" stroke-dasharray="0.9 2.3" fill="none"/>
<path d="M210.9,334.6 C211.9,331.6 215.5,330.4 219.5,330.2 Q225.3,329.0 231.1,330.1 C234.6,330.1 236.7,331.4 237.1,333.6" stroke="#0c0cee" stroke-width="4.2" fill="none" stroke-linecap="round"/>
<path d="M210.9,334.6 C211.9,331.6 215.5,330.4 219.5,330.2 Q225.3,329.0 231.1,330.1 C234.6,330.1 236.7,331.4 237.1,333.6" stroke="#fff" stroke-opacity="0.45" stroke-width="0.9" stroke-dasharray="0.9 2.3" fill="none"/>
<path d="M72.1,357.8 C73.1,354.8 76.7,353.6 80.7,353.5 Q85.8,352.2 90.8,353.3 C94.3,353.3 96.4,354.6 96.8,356.8" stroke="#12f012" stroke-width="4.2" fill="none" stroke-linecap="round"/>
<path d="M72.1,357.8 C73.1,354.8 76.7,353.6 80.7,353.5 Q85.8,352.2 90.8,353.3 C94.3,353.3 96.4,354.6 96.8,356.8" stroke="#fff" stroke-opacity="0.45" stroke-width="0.9" stroke-dasharray="0.9 2.3" fill="none"/>
<path d="M119.7,357.8 C120.7,354.8 124.3,353.6 128.3,353.5 Q134.9,352.2 141.5,353.3 C145.0,353.3 147.1,354.6 147.5,356.8" stroke="#12f012" stroke-width="4.2" fill="none" stroke-linecap="round"/>
<path d="M119.7,357.8 C120.7,354.8 124.3,353.6 128.3,353.5 Q134.9,352.2 141.5,353.3 C145.0,353.3 147.1,354.6 147.5,356.8" stroke="#fff" stroke-opacity="0.45" stroke-width="0.9" stroke-dasharray="0.9 2.3" fill="none"/>
<path d="M169.3,357.8 C170.3,354.8 173.9,353.6 177.9,353.5 Q183.1,352.2 188.2,353.3 C191.7,353.3 193.8,354.6 194.2,356.8" stroke="#12f012" stroke-width="4.2" fill="none" stroke-linecap="round"/>
<path d="M169.3,357.8 C170.3,354.8 173.9,353.6 177.9,353.5 Q183.1,352.2 188.2,353.3 C191.7,353.3 193.8,354.6 194.2,356.8" stroke="#fff" stroke-opacity="0.45" stroke-width="0.9" stroke-dasharray="0.9 2.3" fill="none"/>
<path d="M210.9,357.8 C211.9,354.8 215.5,353.6 219.5,353.5 Q225.3,352.2 231.1,353.3 C234.6,353.3 236.7,354.6 237.1,356.8" stroke="#12f012" stroke-width="4.2" fill="none" stroke-linecap="round"/>
<path d="M210.9,357.8 C211.9,354.8 215.5,353.6 219.5,353.5 Q225.3,352.2 231.1,353.3 C234.6,353.3 236.7,354.6 237.1,356.8" stroke="#fff" stroke-opacity="0.45" stroke-width="0.9" stroke-dasharray="0.9 2.3" fill="none"/>
<path d="M72.1,389.6 C73.1,389.8 76.7,388.6 80.7,388.5 Q85.8,387.2 90.8,388.3 C94.3,388.3 96.4,389.6 96.8,389.2" stroke="#fa00fa" stroke-width="4.2" fill="none" stroke-linecap="round"/>
<path d="M72.1,389.6 C73.1,389.8 76.7,388.6 80.7,388.5 Q85.8,387.2 90.8,388.3 C94.3,388.3 96.4,389.6 96.8,389.2" stroke="#fff" stroke-opacity="0.45" stroke-width="0.9" stroke-dasharray="0.9 2.3" fill="none"/>
<path d="M119.7,389.6 C120.7,389.8 124.3,388.6 128.3,388.5 Q134.9,387.2 141.5,388.3 C145.0,388.3 147.1,389.6 147.5,389.2" stroke="#fa00fa" stroke-width="4.2" fill="none" stroke-linecap="round"/>
<path d="M119.7,389.6 C120.7,389.8 124.3,388.6 128.3,388.5 Q134.9,387.2 141.5,388.3 C145.0,388.3 147.1,389.6 147.5,389.2" stroke="#fff" stroke-opacity="0.45" stroke-width="0.9" stroke-dasharray="0.9 2.3" fill="none"/>
<path d="M169.3,389.6 C170.3,389.8 173.9,388.6 177.9,388.5 Q183.1,387.2 188.2,388.3 C191.7,388.3 193.8,389.6 194.2,389.2" stroke="#fa00fa" stroke-width="4.2" fill="none" stroke-linecap="round"/>
<path d="M169.3,389.6 C170.3,389.8 173.9,388.6 177.9,388.5 Q183.1,387.2 188.2,388.3 C191.7,388.3 193.8,389.6 194.2,389.2" stroke="#fff" stroke-opacity="0.45" stroke-width="0.9" stroke-dasharray="0.9 2.3" fill="none"/>
<path d="M210.9,389.6 C211.9,389.8 215.5,388.6 219.5,388.5 Q225.3,387.2 231.1,388.3 C234.6,388.3 236.7,389.6 237.1,389.2" stroke="#fa00fa" stroke-width="4.2" fill="none" stroke-linecap="round"/>
<path d="M210.9,389.6 C211.9,389.8 215.5,388.6 219.5,388.5 Q225.3,387.2 231.1,388.3 C234.6,388.3 236.7,389.6 237.1,389.2" stroke="#fff" stroke-opacity="0.45" stroke-width="0.9" stroke-dasharray="0.9 2.3" fill="none"/>
<path d="M54.2,435.1 L73.7,435.1" stroke="#fa00fa" stroke-width="4.0" fill="none" stroke-linecap="round"/>
<path d="M54.2,435.1 L73.7,435.1" stroke="#fff" stroke-opacity="0.45" stroke-width="0.9" stroke-dasharray="0.9 2.3" fill="none"/>
<path d="M95.8,435.1 L121.3,435.1" stroke="#fa00fa" stroke-width="4.0" fill="none" stroke-linecap="round"/>
<path d="M95.8,435.1 L121.3,435.1" stroke="#fff" stroke-opacity="0.45" stroke-width="0.9" stroke-dasharray="0.9 2.3" fill="none"/>
<path d="M146.5,435.1 L170.9,435.1" stroke="#fa00fa" stroke-width="4.0" fill="none" stroke-linecap="round"/>
<path d="M146.5,435.1 L170.9,435.1" stroke="#fff" stroke-opacity="0.45" stroke-width="0.9" stroke-dasharray="0.9 2.3" fill="none"/>
<path d="M193.2,435.1 L212.5,435.1" stroke="#fa00fa" stroke-width="4.0" fill="none" stroke-linecap="round"/>
<path d="M193.2,435.1 L212.5,435.1" stroke="#fff" stroke-opacity="0.45" stroke-width="0.9" stroke-dasharray="0.9 2.3" fill="none"/>
<path d="M236.1,435.1 L257.5,435.1" stroke="#fa00fa" stroke-width="4.0" fill="none" stroke-linecap="round"/>
<path d="M236.1,435.1 L257.5,435.1" stroke="#fff" stroke-opacity="0.45" stroke-width="0.9" stroke-dasharray="0.9 2.3" fill="none"/>
<rect x="52.2" y="273.0" width="231.50" height="170.40" fill="none" stroke="#000" stroke-width="1.3"/>
<line x1="49.00" y1="435.75" x2="52.20" y2="435.75" stroke="#000" stroke-width="1.2"/>
<line x1="50.20" y1="416.38" x2="52.20" y2="416.38" stroke="#000" stroke-width="1.2"/>
<line x1="49.00" y1="397.00" x2="52.20" y2="397.00" stroke="#000" stroke-width="1.2"/>
<line x1="50.20" y1="377.62" x2="52.20" y2="377.62" stroke="#000" stroke-width="1.2"/>
<line x1="49.00" y1="358.25" x2="52.20" y2="358.25" stroke="#000" stroke-width="1.2"/>
<line x1="50.20" y1="338.88" x2="52.20" y2="338.88" stroke="#000" stroke-width="1.2"/>
<line x1="49.00" y1="319.50" x2="52.20" y2="319.50" stroke="#000" stroke-width="1.2"/>
<line x1="50.20" y1="300.12" x2="52.20" y2="300.12" stroke="#000" stroke-width="1.2"/>
<line x1="49.00" y1="280.75" x2="52.20" y2="280.75" stroke="#000" stroke-width="1.2"/>
<line x1="52.00" y1="443.40" x2="52.00" y2="446.60" stroke="#000" stroke-width="1.2"/>
<line x1="70.10" y1="443.40" x2="70.10" y2="445.40" stroke="#000" stroke-width="1.2"/>
<line x1="88.20" y1="443.40" x2="88.20" y2="446.60" stroke="#000" stroke-width="1.2"/>
<line x1="106.30" y1="443.40" x2="106.30" y2="445.40" stroke="#000" stroke-width="1.2"/>
<line x1="124.40" y1="443.40" x2="124.40" y2="446.60" stroke="#000" stroke-width="1.2"/>
<line x1="142.50" y1="443.40" x2="142.50" y2="445.40" stroke="#000" stroke-width="1.2"/>
<line x1="160.60" y1="443.40" x2="160.60" y2="446.60" stroke="#000" stroke-width="1.2"/>
<line x1="178.70" y1="443.40" x2="178.70" y2="445.40" stroke="#000" stroke-width="1.2"/>
<line x1="196.80" y1="443.40" x2="196.80" y2="446.60" stroke="#000" stroke-width="1.2"/>
<line x1="214.90" y1="443.40" x2="214.90" y2="445.40" stroke="#000" stroke-width="1.2"/>
<line x1="233.00" y1="443.40" x2="233.00" y2="446.60" stroke="#000" stroke-width="1.2"/>
<line x1="251.10" y1="443.40" x2="251.10" y2="445.40" stroke="#000" stroke-width="1.2"/>
<line x1="269.20" y1="443.40" x2="269.20" y2="446.60" stroke="#000" stroke-width="1.2"/>
<line x1="349.40" y1="446.70" x2="352.80" y2="446.70" stroke="#d41c1c" stroke-width="1.2"/>
<line x1="350.60" y1="400.13" x2="352.80" y2="400.13" stroke="#d41c1c" stroke-width="1.2"/>
<line x1="350.60" y1="372.89" x2="352.80" y2="372.89" stroke="#d41c1c" stroke-width="1.2"/>
<line x1="350.60" y1="353.56" x2="352.80" y2="353.56" stroke="#d41c1c" stroke-width="1.2"/>
<line x1="350.60" y1="338.57" x2="352.80" y2="338.57" stroke="#d41c1c" stroke-width="1.2"/>
<line x1="350.60" y1="326.32" x2="352.80" y2="326.32" stroke="#d41c1c" stroke-width="1.2"/>
<line x1="350.60" y1="315.96" x2="352.80" y2="315.96" stroke="#d41c1c" stroke-width="1.2"/>
<line x1="350.60" y1="306.99" x2="352.80" y2="306.99" stroke="#d41c1c" stroke-width="1.2"/>
<line x1="350.60" y1="299.08" x2="352.80" y2="299.08" stroke="#d41c1c" stroke-width="1.2"/>
<line x1="349.40" y1="292.00" x2="352.80" y2="292.00" stroke="#d41c1c" stroke-width="1.2"/>
<line x1="350.60" y1="285.60" x2="352.80" y2="285.60" stroke="#d41c1c" stroke-width="1.2"/>
<line x1="350.60" y1="279.75" x2="352.80" y2="279.75" stroke="#d41c1c" stroke-width="1.2"/>
<line x1="564.00" y1="420.64" x2="566.20" y2="420.64" stroke="#1a16c4" stroke-width="1.2"/>
<line x1="564.00" y1="402.40" x2="566.20" y2="402.40" stroke="#1a16c4" stroke-width="1.2"/>
<line x1="564.00" y1="388.25" x2="566.20" y2="388.25" stroke="#1a16c4" stroke-width="1.2"/>
<line x1="564.00" y1="376.69" x2="566.20" y2="376.69" stroke="#1a16c4" stroke-width="1.2"/>
<line x1="564.00" y1="366.92" x2="566.20" y2="366.92" stroke="#1a16c4" stroke-width="1.2"/>
<line x1="564.00" y1="358.45" x2="566.20" y2="358.45" stroke="#1a16c4" stroke-width="1.2"/>
<line x1="564.00" y1="350.98" x2="566.20" y2="350.98" stroke="#1a16c4" stroke-width="1.2"/>
<line x1="564.00" y1="344.30" x2="567.40" y2="344.30" stroke="#1a16c4" stroke-width="1.2"/>
<line x1="564.00" y1="300.35" x2="566.20" y2="300.35" stroke="#1a16c4" stroke-width="1.2"/>
<line x1="362.15" y1="446.50" x2="362.15" y2="448.50" stroke="#000" stroke-width="1.1"/>
<line x1="362.15" y1="275.00" x2="362.15" y2="277.00" stroke="#000" stroke-width="1.1"/>
<line x1="370.67" y1="446.50" x2="370.67" y2="448.50" stroke="#000" stroke-width="1.1"/>
<line x1="370.67" y1="275.00" x2="370.67" y2="277.00" stroke="#000" stroke-width="1.1"/>
<line x1="378.30" y1="446.50" x2="378.30" y2="449.90" stroke="#000" stroke-width="1.1"/>
<line x1="378.30" y1="275.00" x2="378.30" y2="278.40" stroke="#000" stroke-width="1.1"/>
<line x1="428.48" y1="446.50" x2="428.48" y2="448.50" stroke="#000" stroke-width="1.1"/>
<line x1="428.48" y1="275.00" x2="428.48" y2="277.00" stroke="#000" stroke-width="1.1"/>
<line x1="457.84" y1="446.50" x2="457.84" y2="448.50" stroke="#000" stroke-width="1.1"/>
<line x1="457.84" y1="275.00" x2="457.84" y2="277.00" stroke="#000" stroke-width="1.1"/>
<line x1="478.66" y1="446.50" x2="478.66" y2="448.50" stroke="#000" stroke-width="1.1"/>
<line x1="478.66" y1="275.00" x2="478.66" y2="277.00" stroke="#000" stroke-width="1.1"/>
<line x1="494.82" y1="446.50" x2="494.82" y2="448.50" stroke="#000" stroke-width="1.1"/>
<line x1="494.82" y1="275.00" x2="494.82" y2="277.00" stroke="#000" stroke-width="1.1"/>
<line x1="508.02" y1="446.50" x2="508.02" y2="448.50" stroke="#000" stroke-width="1.1"/>
<line x1="508.02" y1="275.00" x2="508.02" y2="277.00" stroke="#000" stroke-width="1.1"/>
<line x1="519.18" y1="446.50" x2="519.18" y2="448.50" stroke="#000" stroke-width="1.1"/>
<line x1="519.18" y1="275.00" x2="519.18" y2="277.00" stroke="#000" stroke-width="1.1"/>
<line x1="528.85" y1="446.50" x2="528.85" y2="448.50" stroke="#000" stroke-width="1.1"/>
<line x1="528.85" y1="275.00" x2="528.85" y2="277.00" stroke="#000" stroke-width="1.1"/>
<line x1="537.37" y1="446.50" x2="537.37" y2="448.50" stroke="#000" stroke-width="1.1"/>
<line x1="537.37" y1="275.00" x2="537.37" y2="277.00" stroke="#000" stroke-width="1.1"/>
<line x1="545.00" y1="446.50" x2="545.00" y2="449.90" stroke="#000" stroke-width="1.1"/>
<line x1="545.00" y1="275.00" x2="545.00" y2="278.40" stroke="#000" stroke-width="1.1"/>
<line x1="352.10" y1="275.00" x2="564.70" y2="275.00" stroke="#000" stroke-width="1.3"/>
<line x1="352.10" y1="446.50" x2="564.70" y2="446.50" stroke="#000" stroke-width="1.3"/>
<line x1="352.80" y1="275.00" x2="352.80" y2="446.50" stroke="#d41c1c" stroke-width="1.4"/>
<line x1="564.00" y1="275.00" x2="564.00" y2="446.50" stroke="#1a16c4" stroke-width="1.4"/>
<line x1="362.00" y1="291.80" x2="554.70" y2="415.00" stroke="#cc1c1c" stroke-width="1.45"/>
<line x1="362.00" y1="413.70" x2="555.00" y2="297.80" stroke="#1a14b8" stroke-width="1.45"/>
<circle cx="362.0" cy="291.2" r="2.75" fill="#ee1010" stroke="#b01010" stroke-width="0.6"/>
<circle cx="361.10" cy="290.40" r="0.9" fill="#fff" fill-opacity="0.45"/>
<circle cx="420.8" cy="328.0" r="2.75" fill="#ee1010" stroke="#b01010" stroke-width="0.6"/>
<circle cx="419.90" cy="327.20" r="0.9" fill="#fff" fill-opacity="0.45"/>
<circle cx="474.7" cy="361.7" r="2.75" fill="#ee1010" stroke="#b01010" stroke-width="0.6"/>
<circle cx="473.80" cy="360.90" r="0.9" fill="#fff" fill-opacity="0.45"/>
<circle cx="532.0" cy="402.5" r="2.75" fill="#ee1010" stroke="#b01010" stroke-width="0.6"/>
<circle cx="531.10" cy="401.70" r="0.9" fill="#fff" fill-opacity="0.45"/>
<circle cx="554.7" cy="414.2" r="2.75" fill="#ee1010" stroke="#b01010" stroke-width="0.6"/>
<circle cx="553.80" cy="413.40" r="0.9" fill="#fff" fill-opacity="0.45"/>
<circle cx="362.0" cy="413.9" r="2.75" fill="#1414f0" stroke="#1010a8" stroke-width="0.6"/>
<circle cx="361.10" cy="413.10" r="0.9" fill="#fff" fill-opacity="0.45"/>
<circle cx="420.8" cy="379.2" r="2.75" fill="#1414f0" stroke="#1010a8" stroke-width="0.6"/>
<circle cx="419.90" cy="378.40" r="0.9" fill="#fff" fill-opacity="0.45"/>
<circle cx="474.7" cy="347.0" r="2.75" fill="#1414f0" stroke="#1010a8" stroke-width="0.6"/>
<circle cx="473.80" cy="346.20" r="0.9" fill="#fff" fill-opacity="0.45"/>
<circle cx="532.0" cy="308.4" r="2.75" fill="#1414f0" stroke="#1010a8" stroke-width="0.6"/>
<circle cx="531.10" cy="307.60" r="0.9" fill="#fff" fill-opacity="0.45"/>
<circle cx="555.0" cy="297.8" r="2.75" fill="#1414f0" stroke="#1010a8" stroke-width="0.6"/>
<circle cx="554.10" cy="297.00" r="0.9" fill="#fff" fill-opacity="0.45"/>
<text transform="translate(6.92 24.12) scale(1.0348 0.9614)" font-size="29" fill="#000" stroke="#000" stroke-width="0.18" font-weight="normal">a</text>
<text transform="translate(40.80 203.83) scale(1.0000 0.9850)" font-size="15.5" fill="#000" stroke="#000" stroke-width="0.4" font-weight="bold">0</text>
<text transform="translate(40.80 177.50) scale(1.0000 0.9850)" font-size="15.5" fill="#000" stroke="#000" stroke-width="0.4" font-weight="bold">1</text>
<text transform="translate(40.80 151.05) scale(1.0000 0.9850)" font-size="15.5" fill="#000" stroke="#000" stroke-width="0.4" font-weight="bold">2</text>
<text transform="translate(40.55 124.48) scale(1.0000 0.9850)" font-size="15.5" fill="#000" stroke="#000" stroke-width="0.4" font-weight="bold">3</text>
<text transform="translate(40.30 98.15) scale(1.0000 0.9850)" font-size="15.5" fill="#000" stroke="#000" stroke-width="0.4" font-weight="bold">4</text>
<text transform="translate(40.55 71.58) scale(1.0000 0.9850)" font-size="15.5" fill="#000" stroke="#000" stroke-width="0.4" font-weight="bold">5</text>
<text transform="translate(40.55 45.13) scale(1.0000 0.9850)" font-size="15.5" fill="#000" stroke="#000" stroke-width="0.4" font-weight="bold">6</text>
<text transform="translate(49.72 215.81) scale(1.0000 0.9850)" font-size="15.5" fill="#000" stroke="#000" stroke-width="0.4" font-weight="bold">0</text>
<text transform="translate(101.47 216.05) scale(1.0000 0.9850)" font-size="15.5" fill="#000" stroke="#000" stroke-width="0.4" font-weight="bold">1</text>
<text transform="translate(153.73 216.05) scale(1.0000 0.9850)" font-size="15.5" fill="#000" stroke="#000" stroke-width="0.4" font-weight="bold">2</text>
<text transform="translate(205.73 215.81) scale(1.0000 0.9850)" font-size="15.5" fill="#000" stroke="#000" stroke-width="0.4" font-weight="bold">3</text>
<text transform="translate(257.73 216.05) scale(1.0000 0.9850)" font-size="15.5" fill="#000" stroke="#000" stroke-width="0.4" font-weight="bold">4</text>
<text transform="translate(142.60 232.39) scale(1.0188 1.1030)" font-size="17.6" fill="#000" stroke="#000" stroke-width="0.4" font-weight="bold">Time (s)</text>
<text transform="translate(32.80 181.40) rotate(-90) scale(1.0148 1.0746)" font-size="18" fill="#000" stroke="#000" stroke-width="0.4" font-weight="bold">Photocurrent (nA)</text>
<text transform="translate(65.48 41.04) scale(1.0141 1.0419)" font-size="15.5" fill="#000" stroke="#000" stroke-width="0.18" font-weight="normal">1064 nm</text>
<text transform="translate(245.38 60.56) scale(0.9538 0.8774)" font-size="10.5" fill="#d010d0" stroke="#d010d0" stroke-width="0.4" font-weight="bold">11.5 mW</text>
<text transform="translate(243.76 100.86) scale(0.9784 0.8774)" font-size="10.5" fill="#30d030" stroke="#30d030" stroke-width="0.4" font-weight="bold">8.4 mW</text>
<text transform="translate(242.16 142.74) scale(0.9525 0.9161)" font-size="10.5" fill="#1818b8" stroke="#1818b8" stroke-width="0.4" font-weight="bold">3.8 mW</text>
<text transform="translate(244.08 172.15) scale(0.9577 0.8903)" font-size="10.5" fill="#dd2020" stroke="#dd2020" stroke-width="0.4" font-weight="bold">1.8 mW</text>
<text transform="translate(241.86 190.54) scale(0.9612 0.9161)" font-size="10.5" fill="#111" stroke="#111" stroke-width="0.4" font-weight="bold">0.8 mW</text>
<text transform="translate(299.20 23.81) scale(0.9852 0.9831)" font-size="29" fill="#000" stroke="#000" stroke-width="0.18" font-weight="normal">b</text>
<text transform="translate(329.45 95.44) scale(1.0000 1.0333)" font-size="12.8" fill="#d41c1c" stroke="#d41c1c" stroke-width="0.4" font-weight="bold">1.2</text>
<text transform="translate(329.15 203.29) scale(1.0000 1.0333)" font-size="12.8" fill="#d41c1c" stroke="#d41c1c" stroke-width="0.4" font-weight="bold">0.6</text>
<text transform="translate(329.15 158.51) scale(1.0000 1.0333)" font-size="12.8" fill="#d41c1c" stroke="#d41c1c" stroke-width="0.4" font-weight="bold">0.8</text>
<text transform="translate(338.90 123.78) scale(1.0000 1.0333)" font-size="12.8" fill="#d41c1c" stroke="#d41c1c" stroke-width="0.4" font-weight="bold">1</text>
<text transform="translate(328.90 71.41) scale(1.0000 1.0333)" font-size="12.8" fill="#d41c1c" stroke="#d41c1c" stroke-width="0.4" font-weight="bold">1.4</text>
<text transform="translate(329.15 50.62) scale(1.0000 1.0333)" font-size="12.8" fill="#d41c1c" stroke="#d41c1c" stroke-width="0.4" font-weight="bold">1.6</text>
<text transform="translate(329.15 32.29) scale(1.0000 1.0333)" font-size="12.8" fill="#d41c1c" stroke="#d41c1c" stroke-width="0.4" font-weight="bold">1.8</text>
<text transform="translate(566.30 59.34) scale(0.9968 1.0333)" font-size="12.8" fill="#1a16c4" stroke="#1a16c4" stroke-width="0.4" font-weight="bold">4.5</text>
<text transform="translate(566.15 203.79) scale(0.9968 1.0333)" font-size="12.8" fill="#1a16c4" stroke="#1a16c4" stroke-width="0.4" font-weight="bold">2</text>
<text transform="translate(566.15 164.06) scale(0.9968 1.0333)" font-size="12.8" fill="#1a16c4" stroke="#1a16c4" stroke-width="0.4" font-weight="bold">2.5</text>
<text transform="translate(566.15 131.59) scale(0.9968 1.0333)" font-size="12.8" fill="#1a16c4" stroke="#1a16c4" stroke-width="0.4" font-weight="bold">3</text>
<text transform="translate(566.15 104.15) scale(0.9968 1.0333)" font-size="12.8" fill="#1a16c4" stroke="#1a16c4" stroke-width="0.4" font-weight="bold">3.5</text>
<text transform="translate(566.40 80.37) scale(0.9968 1.0333)" font-size="12.8" fill="#1a16c4" stroke="#1a16c4" stroke-width="0.4" font-weight="bold">4</text>
<text transform="translate(566.15 40.51) scale(0.9968 1.0333)" font-size="12.8" fill="#1a16c4" stroke="#1a16c4" stroke-width="0.4" font-weight="bold">5</text>
<text transform="translate(535.44 215.47) scale(1.0851 1.1389)" font-size="12.8" fill="#000" stroke="#000" stroke-width="0.4" font-weight="bold">10</text>
<text transform="translate(372.64 215.02) scale(1.0851 1.1389)" font-size="12.8" fill="#000" stroke="#000" stroke-width="0.4" font-weight="bold">1</text>
<text transform="translate(410.30 230.62) scale(0.9935 1.0438)" font-size="17.0" fill="#000" stroke="#000" stroke-width="0.4" font-weight="bold">Power (mW)</text>
<text transform="translate(321.12 142.60) rotate(-90) scale(1.0028 1.0603)" font-size="17" fill="#d41c1c" stroke="#d41c1c" stroke-width="0.4" font-weight="bold">R (&#956;A/W)</text>
<text transform="translate(591.84 170.80) rotate(-90) scale(1.0000 0.9841)" font-size="14" fill="#1a16c4" stroke="#1a16c4" stroke-width="0.4" font-weight="bold">NEP (nW/Hz<tspan font-size="0.62em" dy="-0.45em">1/2</tspan><tspan dy="0.45em">)</tspan></text>
<text transform="translate(384.33 47.25) scale(1.0169 0.9860)" font-size="15.5" fill="#000" stroke="#000" stroke-width="0.18" font-weight="normal">1064 nm</text>
<text transform="translate(7.23 260.54) scale(1.0227 0.9298)" font-size="29" fill="#000" stroke="#000" stroke-width="0.18" font-weight="normal">c</text>
<text transform="translate(29.75 439.43) scale(0.8919 0.9455)" font-size="15.5" fill="#000" stroke="#000" stroke-width="0.4" font-weight="bold">0.0</text>
<text transform="translate(29.70 400.73) scale(0.8919 0.9455)" font-size="15.5" fill="#000" stroke="#000" stroke-width="0.4" font-weight="bold">0.5</text>
<text transform="translate(29.70 361.98) scale(0.8919 0.9455)" font-size="15.5" fill="#000" stroke="#000" stroke-width="0.4" font-weight="bold">1.0</text>
<text transform="translate(29.70 323.23) scale(0.8919 0.9455)" font-size="15.5" fill="#000" stroke="#000" stroke-width="0.4" font-weight="bold">1.5</text>
<text transform="translate(29.70 284.48) scale(0.8919 0.9455)" font-size="15.5" fill="#000" stroke="#000" stroke-width="0.4" font-weight="bold">2.0</text>
<text transform="translate(43.76 458.87) scale(0.8757 0.8636)" font-size="15.5" fill="#000" stroke="#000" stroke-width="0.4" font-weight="bold">0.0</text>
<text transform="translate(79.86 458.97) scale(0.8757 0.8636)" font-size="15.5" fill="#000" stroke="#000" stroke-width="0.4" font-weight="bold">0.5</text>
<text transform="translate(115.84 458.97) scale(0.8757 0.8636)" font-size="15.5" fill="#000" stroke="#000" stroke-width="0.4" font-weight="bold">1.0</text>
<text transform="translate(152.04 458.97) scale(0.8757 0.8636)" font-size="15.5" fill="#000" stroke="#000" stroke-width="0.4" font-weight="bold">1.5</text>
<text transform="translate(188.46 458.97) scale(0.8757 0.8636)" font-size="15.5" fill="#000" stroke="#000" stroke-width="0.4" font-weight="bold">2.0</text>
<text transform="translate(224.66 458.97) scale(0.8757 0.8636)" font-size="15.5" fill="#000" stroke="#000" stroke-width="0.4" font-weight="bold">2.5</text>
<text transform="translate(260.97 458.97) scale(0.8757 0.8636)" font-size="15.5" fill="#000" stroke="#000" stroke-width="0.4" font-weight="bold">3.0</text>
<text transform="translate(140.25 475.35) scale(1.0327 1.1000)" font-size="17.6" fill="#000" stroke="#000" stroke-width="0.4" font-weight="bold">Time (s)</text>
<text transform="translate(16.54 426.40) rotate(-90) scale(1.0191 1.0537)" font-size="18" fill="#000" stroke="#000" stroke-width="0.4" font-weight="bold">Photocurrent (nA)</text>
<text transform="translate(65.17 285.08) scale(1.0504 0.8930)" font-size="15.5" fill="#000" stroke="#000" stroke-width="0.18" font-weight="normal">2.52 THz</text>
<text transform="translate(241.38 296.74) scale(0.9538 0.9290)" font-size="10.5" fill="#111" stroke="#111" stroke-width="0.4" font-weight="bold">11.5 mW</text>
<text transform="translate(243.76 317.80) scale(0.9439 0.9935)" font-size="10.5" fill="#dd2020" stroke="#dd2020" stroke-width="0.4" font-weight="bold">8.4 mW</text>
<text transform="translate(244.36 337.95) scale(0.9525 0.9032)" font-size="10.5" fill="#1818b8" stroke="#1818b8" stroke-width="0.4" font-weight="bold">3.8 mW</text>
<text transform="translate(243.49 358.17) scale(0.9401 0.8516)" font-size="10.5" fill="#30d030" stroke="#30d030" stroke-width="0.4" font-weight="bold">1.8 mW</text>
<text transform="translate(243.76 391.42) scale(0.9439 0.9548)" font-size="10.5" fill="#d010d0" stroke="#d010d0" stroke-width="0.4" font-weight="bold">0.8 mW</text>
<text transform="translate(298.60 260.72) scale(0.9962 0.9687)" font-size="29" fill="#000" stroke="#000" stroke-width="0.18" font-weight="normal">d</text>
<text transform="translate(340.66 295.89) scale(0.9900 1.0800)" font-size="12.8" fill="#d41c1c" stroke="#d41c1c" stroke-width="0.4" font-weight="bold">1</text>
<text transform="translate(331.05 450.19) scale(0.9900 1.0800)" font-size="12.8" fill="#d41c1c" stroke="#d41c1c" stroke-width="0.4" font-weight="bold">0.1</text>
<text transform="translate(569.47 348.22) scale(1.0426 1.1389)" font-size="12.8" fill="#1a16c4" stroke="#1a16c4" stroke-width="0.4" font-weight="bold">10</text>
<text transform="translate(539.23 461.72) scale(1.0213 1.1111)" font-size="12.8" fill="#000" stroke="#000" stroke-width="0.4" font-weight="bold">10</text>
<text transform="translate(375.15 461.47) scale(1.0213 1.1111)" font-size="12.8" fill="#000" stroke="#000" stroke-width="0.4" font-weight="bold">1</text>
<text transform="translate(413.40 477.45) scale(0.9978 1.0375)" font-size="17.0" fill="#000" stroke="#000" stroke-width="0.4" font-weight="bold">Power (mW)</text>
<text transform="translate(327.90 399.60) rotate(-90) scale(0.9930 1.0667)" font-size="17" fill="#d41c1c" stroke="#d41c1c" stroke-width="0.4" font-weight="bold">R (&#956;A/W)</text>
<text transform="translate(591.84 418.10) rotate(-90) scale(1.0075 0.9841)" font-size="14" fill="#1a16c4" stroke="#1a16c4" stroke-width="0.4" font-weight="bold">NEP (nW/Hz<tspan font-size="0.62em" dy="-0.45em">1/2</tspan><tspan dy="0.45em">)</tspan></text>
<text transform="translate(383.68 293.75) scale(1.0365 1.0047)" font-size="15.5" fill="#000" stroke="#000" stroke-width="0.18" font-weight="normal">2.52 THz</text>
</svg>
</body></html>
